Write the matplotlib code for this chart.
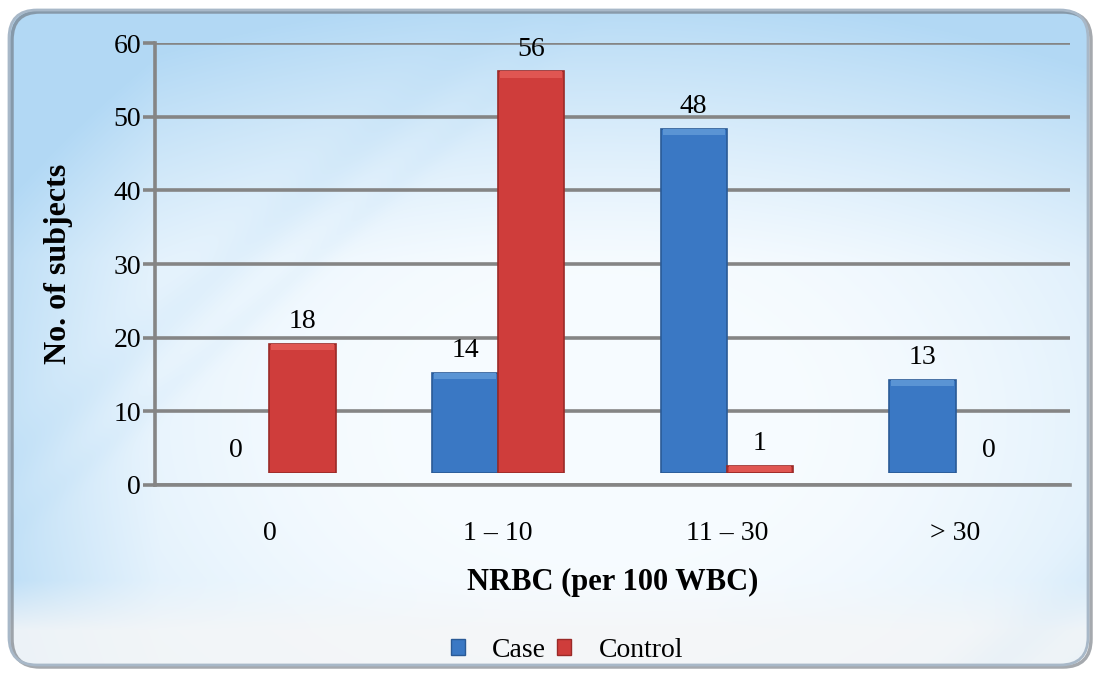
import numpy as np
import matplotlib
matplotlib.use("Agg")
import matplotlib.pyplot as plt
from matplotlib.patches import FancyBboxPatch, Patch

categories = ["0", "1 – 10", "11 – 30", "> 30"]
case_vals = [0, 14, 48, 13]
control_vals = [18, 56, 1, 0]
yticks = [0, 10, 20, 30, 40, 50, 60]
series_names = ["Case", "Control"]

W, H = 1097, 675
plt.rcParams['font.family'] = ['Liberation Serif', 'DejaVu Serif']
fig = plt.figure(figsize=(W / 100, H / 100), dpi=100)
fig.patch.set_facecolor('white')

# ---- background panel ----
bg = fig.add_axes([0, 0, 1, 1], zorder=-5)
bg.set_xlim(0, W)
bg.set_ylim(0, H)
bg.axis('off')
yy, xx = np.mgrid[0:H, 0:W].astype(float)
dx = (xx - 600) / 600
dy = (yy - 420) / 420
r = np.sqrt(dx ** 2 + dy ** 2)
t = np.clip(r - 0.35, 0, 1) ** 1.5 * 0.8
topb = np.clip((260 - yy) / 260, 0, 1) * 0.55
leftb = np.clip((160 - xx) / 160, 0, 1) * 0.35
blue = np.clip(t + topb + leftb, 0, 1)
c_white = np.array([0.965, 0.985, 1.0])
c_blue = np.array([0.70, 0.85, 0.96])
img = c_white[None, None, :] * (1 - blue[..., None]) + c_blue[None, None, :] * blue[..., None]
# bottom band lighter/greyish
bot = np.clip((yy - 580) / 50, 0, 1)[..., None]
img = img * (1 - bot * 0.85) + np.array([0.96, 0.965, 0.97]) * bot * 0.85
# diagonal streaks
for (c0, wdt, a) in [(470, 30, 0.18), (540, 18, 0.12), (1560, 40, 0.12), (1640, 22, 0.10)]:
    d = (xx * 0.9 + yy) - c0
    band = np.exp(-(d / wdt) ** 2)
    img = img * (1 - band[..., None] * a) + c_blue * band[..., None] * a
img = np.clip(img, 0, 1)
im = bg.imshow(img, extent=[0, W, 0, H], origin='upper', aspect='auto', zorder=0)
panel = FancyBboxPatch((9, 10), W - 18, H - 20,
                       boxstyle="round,pad=0,rounding_size=28",
                       facecolor='none', edgecolor='#a8b8c8', lw=2.0, zorder=2)
bg.add_patch(panel)
im.set_clip_path(panel)
# right-side shadow
shadow = FancyBboxPatch((12, 8), W - 18, H - 20,
                        boxstyle="round,pad=0,rounding_size=28",
                        facecolor='none', edgecolor='#6a7078', lw=2.5, zorder=1, alpha=0.6)
bg.add_patch(shadow)

# ---- main axes (grid / scale) ----
ax_l, ax_r = 155 / W, 1070 / W
ax_b, ax_t = (H - 485) / H, (H - 43) / H
ax = fig.add_axes([ax_l, ax_b, ax_r - ax_l, ax_t - ax_b])
ax.set_facecolor('none')
ax.set_xlim(-0.5, len(categories) - 0.5)
ax.set_ylim(0, 60)
ax.set_yticks(yticks)
ax.yaxis.grid(True, color='#858585', lw=2.6)
ax.set_axisbelow(True)
for s in ['top', 'right']:
    ax.spines[s].set_visible(False)
ax.spines['left'].set_color('#858585')
ax.spines['left'].set_linewidth(2.6)
ax.spines['bottom'].set_color('#858585')
ax.spines['bottom'].set_linewidth(2.6)
ax.tick_params(axis='y', length=9, width=2.6, color='#858585', labelsize=20, pad=1)
ax.tick_params(axis='x', length=0, labelsize=20, pad=26)
ax.set_xticks(range(len(categories)))
ax.set_xticklabels(categories)
ax.set_ylabel("No. of subjects", fontsize=23, fontweight='bold', labelpad=29)
ax.set_xlabel("NRBC (per 100 WBC)", fontsize=22, fontweight='bold', labelpad=16)

# ---- bar axes (3D floor offset) ----
bar_b = (H - 473) / H
px_per_unit = 7.17
bar_h = 60 * px_per_unit / H
bx = fig.add_axes([ax_l, bar_b, ax_r - ax_l, bar_h])
bx.set_facecolor('none')
bx.axis('off')
bx.set_xlim(-0.5, len(categories) - 0.5)
bx.set_ylim(0, 60)

x = np.arange(len(categories))
bw = 0.29
cols = {'Case': ('#3a78c4', '#2a5a96', '#5a94d4'),
        'Control': ('#cf3d3b', '#9a2a28', '#e05652')}
for vals, off, name in [(case_vals, -bw / 2, 'Case'), (control_vals, bw / 2, 'Control')]:
    vals = np.array(vals, dtype=float)
    fc, ec, hc = cols[name]
    lws = [1.2 if v > 0 else 0 for v in vals]
    bx.bar(x + off, vals, width=bw, color=fc, edgecolor=ec, linewidth=lws, zorder=3)
    hl = np.minimum(vals, 0.9)
    bx.bar(x + off, hl, bottom=vals - hl, width=bw * 0.94, color=hc, lw=0, zorder=4)
    for xi, v in zip(x + off, vals):
        bx.annotate(f"{int(v)}", (xi, v), xytext=(0, 7), textcoords='offset points',
                    ha='center', va='bottom', fontsize=20)

# ---- legend ----
handles = [Patch(facecolor=cols[n][0], edgecolor=cols[n][1]) for n in series_names]
fig.legend(handles, series_names, loc='center', bbox_to_anchor=(0.517, 0.037),
           ncol=2, frameon=False, fontsize=20, handlelength=0.5, handleheight=0.5,
           handletextpad=1.0, columnspacing=0.4)

fig.savefig("out.png", dpi=100, facecolor='white')
